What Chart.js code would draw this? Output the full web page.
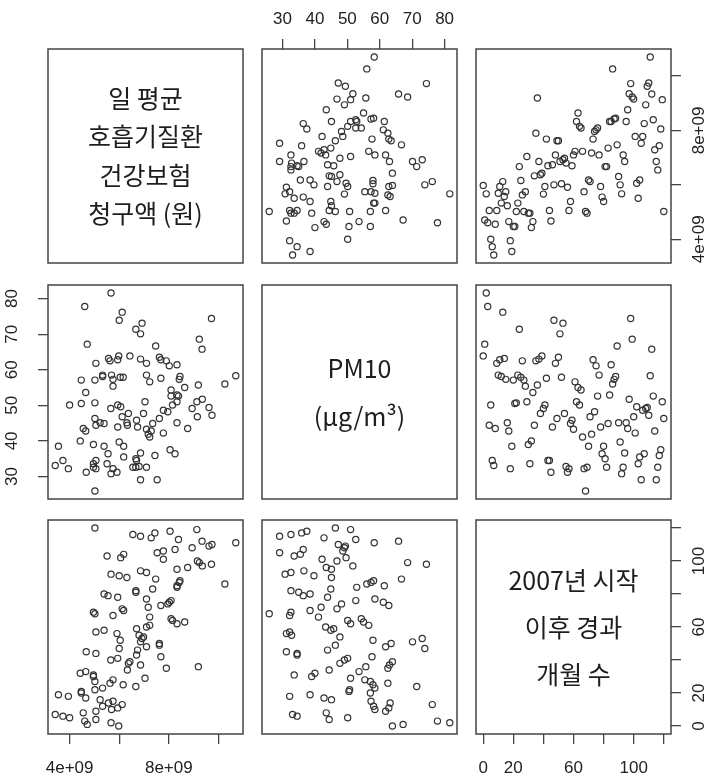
<!DOCTYPE html>
<html>
<head>
<meta charset="utf-8">
<script src="https://cdn.jsdelivr.net/npm/chart.js@4.4.1/dist/chart.umd.min.js"></script>
<style>
  html, body { margin: 0; padding: 0; background: #fff; width: 708px; height: 779px; overflow: hidden; }
  canvas { position: absolute; }
</style>
</head>
<body>
<script>
// months since January 2007
const months = [
  0, 1, 2, 3, 4, 5, 6, 7, 8, 9,
  10, 11, 12, 13, 14, 15, 16, 17, 18, 19,
  20, 21, 22, 23, 24, 25, 26, 27, 28, 29,
  30, 31, 32, 33, 34, 35, 36, 37, 38, 39,
  40, 41, 42, 43, 44, 45, 46, 47, 48, 49,
  50, 51, 52, 53, 54, 55, 56, 57, 58, 59,
  60, 61, 62, 63, 64, 65, 66, 67, 68, 69,
  70, 71, 72, 73, 74, 75, 76, 77, 78, 79,
  80, 81, 82, 83, 84, 85, 86, 87, 88, 89,
  90, 91, 92, 93, 94, 95, 96, 97, 98, 99,
  100, 101, 102, 103, 104, 105, 106, 107, 108, 109,
  110, 111, 112, 113, 114, 115, 116, 117, 118, 119,
  120
];

// daily mean respiratory claims, in units of 1e9 won
const claims = [
  5.98, 4.71, 5.67, 4.61, 5.06, 4.00, 3.73, 3.42, 4.55, 5.06,
  5.69, 5.94, 5.33, 6.12, 5.57, 5.75, 5.23, 4.65, 3.95, 3.55,
  4.47, 4.47, 5.02, 5.33, 6.67, 6.16, 5.63, 5.02, 5.75, 7.04,
  4.96, 4.96, 4.43, 4.65, 6.33, 7.90, 9.19, 6.86, 6.37, 6.43,
  5.66, 5.94, 7.68, 6.70, 5.06, 4.67, 6.74, 6.00, 7.10, 7.62,
  7.62, 6.86, 6.04, 6.92, 6.98, 6.80, 5.91, 5.06, 5.39, 6.70,
  7.10, 7.23, 8.33, 8.64, 8.15, 8.09, 7.23, 5.75, 5.02, 4.96,
  6.18, 6.12, 7.17, 7.68, 7.96, 8.02, 8.09, 7.10, 5.94, 5.55,
  5.39, 6.67, 6.67, 7.35, 8.33, 8.33, 10.26, 8.42, 8.45, 7.47,
  6.31, 6.00, 5.67, 7.10, 6.86, 8.33, 8.76, 9.35, 9.72, 9.23,
  9.15, 7.78, 6.06, 5.51, 6.18, 7.53, 7.78, 8.25, 8.94, 9.62,
  9.74, 10.70, 9.34, 8.39, 7.29, 6.86, 6.55, 7.44, 8.05, 9.13,
  5.02
];

// PM10 in ug/m3
const pm10 = [
  63.9, 67.2, 81.6, 77.8, 44.4, 50.1, 34.5, 33.1, 43.5, 61.8,
  58.5, 62.8, 58.1, 76.2, 63.2, 57.3, 45.1, 42.8, 32.2, 38.5,
  57.1, 50.5, 50.7, 58.5, 71.4, 57.9, 62.5, 57.1, 55.4, 51.0,
  39.0, 33.6, 40.0, 53.6, 44.4, 62.5, 55.7, 63.0, 47.7, 63.9,
  49.1, 50.1, 57.6, 34.5, 34.5, 31.2, 43.9, 73.9, 61.8, 46.3,
  63.5, 70.1, 57.9, 73.1, 47.7, 32.8, 31.2, 32.2, 44.9, 45.8,
  43.3, 56.6, 51.0, 55.0, 50.1, 54.3, 41.1, 32.2, 25.9, 32.6,
  38.5, 46.8, 41.9, 62.8, 48.2, 61.1, 52.6, 58.5, 43.9, 36.4,
  38.5, 35.0, 32.6, 44.9, 52.9, 61.4, 56.0, 57.3, 58.1, 66.7,
  45.1, 39.7, 30.8, 32.6, 36.6, 45.1, 43.5, 51.7, 74.4, 68.6,
  46.8, 42.2, 49.6, 33.6, 35.5, 29.1, 48.6, 36.4, 49.1, 49.4,
  47.2, 58.3, 65.8, 52.6, 42.8, 29.1, 32.6, 35.9, 37.5, 51.0,
  46.3
];

const claimTicks = [4, 6, 8, 10];
const claimTickLabels = ['4e+09', '', '8e+09', ''];
const pm10Ticks = [30, 40, 50, 60, 70, 80];
const pm10TickLabels = ['30', '40', '50', '60', '70', '80'];
const monthTicks = [0, 20, 40, 60, 80, 100, 120];
const monthTickLabels = ['0', '20', '', '60', '', '100', ''];

const claimTitle = ['일 평균', '호흡기질환', '건강보험', '청구액 (원)'];
const pm10Title = ['PM10', '(μg/m³)'];
const monthTitle = ['2007년 시작', '이후 경과', '개월 수'];

// page layout of the 3x3 panel boxes
const colLeft = [48, 262, 476];
const rowTop = [49, 285, 520];
const boxW = 195;
const boxH = 214;
const M = 48;          // room around each box for its axis
const tickLen = 10;
const tickFont = '17px "Liberation Sans", Arial, sans-serif';
const titleFont = '25px "Noto Sans CJK KR", "Noto Sans", sans-serif';

const vars = [
  { values: claims, ticks: claimTicks, labels: claimTickLabels, title: claimTitle, gap: 38.3 },
  { values: pm10, ticks: pm10Ticks, labels: pm10TickLabels, title: pm10Title, gap: 48 },
  { values: months, ticks: monthTicks, labels: monthTickLabels, title: monthTitle, gap: 47 }
];

// distance from box edge to the centre of the tick labels
const labelDist = { top: 30, bottom: 34, left: 36, right: 28 };

const measure = document.createElement('canvas').getContext('2d');
measure.font = tickFont;

function range(v) {
  const lo = Math.min(...v), hi = Math.max(...v), e = (hi - lo) * 0.04;
  return [lo - e, hi + e];
}

function axis(v, pos, show) {
  const [min, max] = range(vars[v].values);
  const vertical = pos === 'left' || pos === 'right';
  let pad = 10;
  if (vertical) {
    const widest = Math.max(...vars[v].labels.map(l => measure.measureText(l).width));
    pad = labelDist[pos] - tickLen - widest / 2;
  } else if (pos === 'bottom') {
    pad = labelDist.bottom - tickLen - 10.2;
  } else {
    pad = labelDist.top - tickLen - 10.2;
  }
  return {
    type: 'linear',
    min: min,
    max: max,
    position: pos,
    display: show,
    grid: { drawOnChartArea: false, drawTicks: true, tickLength: tickLen, color: '#444', lineWidth: 1.3 },
    border: { display: false },
    ticks: {
      color: '#222',
      font: { family: '"Liberation Sans", Arial, sans-serif', size: 17 },
      padding: pad,
      autoSkip: false,
      minRotation: vertical ? 90 : 0,
      maxRotation: vertical ? 90 : 0,
      crossAlign: vertical ? 'center' : 'near',
      callback: (val, i) => vars[v].labels[i]
    },
    afterBuildTicks: s => { s.ticks = vars[v].ticks.map(t => ({ value: t })); },
    afterFit: s => {
      if (vertical) s.width = show ? M : 0;
      else s.height = show ? M : 0;
    }
  };
}

const framePlugin = {
  id: 'frame',
  afterDraw(chart, args, opts) {
    const { ctx, chartArea: a } = chart;
    ctx.save();
    ctx.strokeStyle = '#444';
    ctx.lineWidth = 1.5;
    ctx.strokeRect(a.left, a.top, a.right - a.left, a.bottom - a.top);
    if (opts.lines) {
      ctx.fillStyle = '#1e1e1e';
      ctx.font = titleFont;
      ctx.textAlign = 'center';
      ctx.textBaseline = 'middle';
      const cx = (a.left + a.right) / 2, cy = (a.top + a.bottom) / 2;
      opts.lines.forEach((line, i) => {
        ctx.fillText(line, cx, cy + (i - (opts.lines.length - 1) / 2) * opts.gap);
      });
    }
    ctx.restore();
  }
};

for (let r = 0; r < 3; r++) {
  for (let c = 0; c < 3; c++) {
    const canvas = document.createElement('canvas');
    canvas.width = boxW + 2 * M;
    canvas.height = boxH + 2 * M;
    canvas.style.left = (colLeft[c] - M) + 'px';
    canvas.style.top = (rowTop[r] - M) + 'px';
    document.body.appendChild(canvas);

    // which sides carry an axis, as in R's pairs()
    const xPos = r === 0 ? 'top' : 'bottom';
    const showX = (r === 0 && c === 1) || (r === 2 && c !== 1);
    const yPos = c === 0 ? 'left' : 'right';
    const showY = (c === 0 && r === 1) || (c === 2 && r !== 1);

    const points = r === c ? [] : months.map((m, i) => ({ x: vars[c].values[i], y: vars[r].values[i] }));

    new Chart(canvas, {
      type: 'scatter',
      data: {
        datasets: [{
          data: points,
          pointStyle: 'circle',
          pointRadius: 3.1,
          borderWidth: 1.2,
          borderColor: '#333',
          backgroundColor: 'rgba(0,0,0,0)'
        }]
      },
      options: {
        responsive: false,
        animation: false,
        layout: {
          padding: {
            top: showX && xPos === 'top' ? 0 : M,
            bottom: showX && xPos === 'bottom' ? 0 : M,
            left: showY && yPos === 'left' ? 0 : M,
            right: showY && yPos === 'right' ? 0 : M
          }
        },
        plugins: {
          legend: { display: false },
          tooltip: { enabled: false },
          frame: r === c ? { lines: vars[r].title, gap: vars[r].gap } : {}
        },
        scales: {
          x: axis(c, xPos, showX),
          y: axis(r, yPos, showY)
        }
      },
      plugins: [framePlugin]
    });
  }
}
</script>
</body>
</html>
